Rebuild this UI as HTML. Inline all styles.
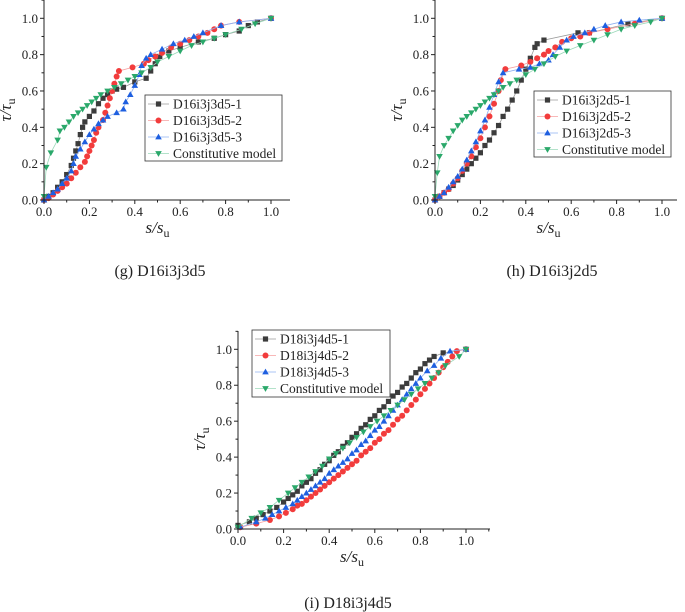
<!DOCTYPE html>
<html><head><meta charset="utf-8"><style>
html,body{margin:0;padding:0;background:#fff;}
svg{display:block;font-family:"Liberation Serif",serif;}
</style></head><body>
<svg id="s" width="685" height="612" viewBox="0 0 685 612" xmlns="http://www.w3.org/2000/svg"></svg>
<script>
// ---- data ----
const ticks = [0, 0.2, 0.4, 0.6, 0.8, 1.0];
const tickLabels = ["0.0", "0.2", "0.4", "0.6", "0.8", "1.0"];
const namesG = ["D16i3j3d5-1", "D16i3j3d5-2", "D16i3j3d5-3", "Constitutive model"];
const namesH = ["D16i3j2d5-1", "D16i3j2d5-2", "D16i3j2d5-3", "Constitutive model"];
const namesI = ["D18i3j4d5-1", "D18i3j4d5-2", "D18i3j4d5-3", "Constitutive model"];
const g1 = [[0,0],[0.02,0.02],[0.04,0.04],[0.06,0.07],[0.08,0.10],[0.10,0.14],[0.12,0.19],[0.13,0.23],[0.14,0.27],[0.15,0.31],[0.16,0.36],[0.17,0.40],[0.18,0.43],[0.2,0.46],[0.22,0.49],[0.24,0.53],[0.26,0.56],[0.28,0.58],[0.30,0.60],[0.32,0.61],[0.35,0.62],[0.40,0.65],[0.45,0.67],[0.47,0.71],[0.49,0.75],[0.51,0.79],[0.55,0.82],[0.6,0.84],[0.68,0.87],[0.75,0.89],[0.8,0.91],[0.86,0.93],[0.9,0.96],[0.94,0.98],[1,1]];
const g2 = [[0,0],[0.02,0.01],[0.04,0.03],[0.06,0.05],[0.08,0.07],[0.10,0.09],[0.12,0.12],[0.14,0.15],[0.16,0.18],[0.18,0.21],[0.19,0.24],[0.20,0.27],[0.21,0.30],[0.22,0.33],[0.23,0.37],[0.24,0.40],[0.26,0.44],[0.27,0.48],[0.28,0.52],[0.29,0.56],[0.30,0.60],[0.31,0.64],[0.32,0.68],[0.33,0.71],[0.39,0.73],[0.44,0.75],[0.46,0.77],[0.49,0.79],[0.52,0.81],[0.56,0.84],[0.60,0.86],[0.64,0.88],[0.68,0.90],[0.72,0.92],[0.75,0.94],[0.78,0.96],[0.86,0.98],[1,1]];
const g3 = [[0,0],[0.02,0.02],[0.04,0.04],[0.06,0.06],[0.08,0.09],[0.10,0.12],[0.12,0.16],[0.13,0.20],[0.14,0.24],[0.16,0.28],[0.18,0.32],[0.20,0.36],[0.22,0.39],[0.24,0.42],[0.26,0.44],[0.28,0.46],[0.32,0.48],[0.35,0.50],[0.36,0.54],[0.38,0.58],[0.40,0.63],[0.42,0.69],[0.43,0.74],[0.45,0.78],[0.47,0.80],[0.52,0.83],[0.57,0.86],[0.62,0.88],[0.66,0.90],[0.70,0.92],[0.78,0.96],[0.86,0.98],[1,1]];
const g4 = [[0,0.02],[0.01,0.18],[0.03,0.26],[0.06,0.33],[0.07,0.38],[0.09,0.40],[0.11,0.43],[0.13,0.46],[0.15,0.48],[0.17,0.50],[0.19,0.52],[0.21,0.54],[0.23,0.56],[0.25,0.58],[0.28,0.60],[0.31,0.62],[0.34,0.64],[0.37,0.66],[0.40,0.68],[0.43,0.70],[0.47,0.73],[0.50,0.76],[0.55,0.79],[0.60,0.82],[0.65,0.85],[0.70,0.87],[0.75,0.89],[0.80,0.91],[0.87,0.94],[0.93,0.97],[1,1]];
const h1 = [[0,0],[0.02,0.02],[0.04,0.04],[0.06,0.06],[0.08,0.08],[0.10,0.11],[0.12,0.14],[0.14,0.17],[0.16,0.20],[0.18,0.23],[0.20,0.26],[0.22,0.30],[0.24,0.33],[0.26,0.37],[0.28,0.41],[0.30,0.46],[0.32,0.50],[0.34,0.55],[0.36,0.60],[0.38,0.66],[0.40,0.72],[0.42,0.78],[0.44,0.84],[0.45,0.86],[0.48,0.88],[0.63,0.92],[0.68,0.92],[0.85,0.97],[1,1]];
const h2 = [[0,0],[0.02,0.02],[0.04,0.04],[0.06,0.06],[0.08,0.09],[0.10,0.12],[0.12,0.16],[0.14,0.20],[0.16,0.24],[0.18,0.29],[0.20,0.34],[0.22,0.40],[0.24,0.46],[0.26,0.53],[0.28,0.60],[0.29,0.66],[0.31,0.72],[0.38,0.74],[0.42,0.76],[0.45,0.78],[0.48,0.80],[0.50,0.82],[0.53,0.84],[0.56,0.87],[0.60,0.89],[0.64,0.90],[0.68,0.92],[0.76,0.94],[0.88,0.97],[1,1]];
const h3 = [[0,0],[0.02,0.02],[0.04,0.04],[0.06,0.07],[0.08,0.10],[0.10,0.13],[0.12,0.17],[0.14,0.22],[0.16,0.27],[0.18,0.32],[0.20,0.38],[0.22,0.44],[0.24,0.51],[0.26,0.58],[0.28,0.65],[0.30,0.70],[0.37,0.72],[0.42,0.73],[0.46,0.75],[0.50,0.77],[0.52,0.80],[0.55,0.84],[0.58,0.88],[0.61,0.90],[0.66,0.92],[0.70,0.94],[0.75,0.96],[0.82,0.98],[0.9,0.99],[1,1]];
const h4 = [[0,0.02],[0.01,0.15],[0.02,0.24],[0.04,0.30],[0.06,0.34],[0.08,0.38],[0.10,0.41],[0.12,0.44],[0.14,0.46],[0.16,0.48],[0.18,0.50],[0.20,0.52],[0.22,0.54],[0.24,0.56],[0.26,0.58],[0.28,0.60],[0.30,0.62],[0.33,0.64],[0.36,0.66],[0.40,0.69],[0.44,0.72],[0.48,0.75],[0.53,0.79],[0.58,0.82],[0.64,0.85],[0.70,0.88],[0.76,0.91],[0.82,0.94],[0.88,0.96],[0.95,0.98],[1,1]];
const i1x = [0,0.05,0.08,0.11,0.14,0.17,0.2,0.22,0.24,0.26,0.28,0.30,0.32,0.34,0.36,0.38,0.40,0.42,0.44,0.46,0.48,0.50,0.52,0.54,0.56,0.58,0.60,0.62,0.64,0.66,0.68,0.70,0.72,0.74,0.76,0.78,0.80,0.82,0.84,0.86,0.9,1.0];
const i1y = [0.02,0.04,0.06,0.08,0.10,0.12,0.15,0.17,0.19,0.21,0.24,0.26,0.28,0.31,0.33,0.36,0.38,0.41,0.43,0.46,0.48,0.51,0.53,0.56,0.58,0.61,0.63,0.66,0.68,0.71,0.74,0.76,0.79,0.81,0.84,0.87,0.89,0.92,0.94,0.96,0.98,1.0];
const i2x = [0.01,0.08,0.14,0.18,0.21,0.24,0.26,0.28,0.30,0.32,0.34,0.36,0.38,0.40,0.42,0.44,0.46,0.48,0.50,0.52,0.54,0.56,0.58,0.60,0.62,0.64,0.66,0.68,0.70,0.72,0.74,0.76,0.78,0.80,0.82,0.84,0.86,0.88,0.90,0.92,0.94,0.96,1.0];
const i2y = [0.01,0.03,0.05,0.07,0.09,0.11,0.13,0.14,0.16,0.18,0.20,0.22,0.24,0.26,0.28,0.30,0.32,0.34,0.36,0.38,0.41,0.43,0.45,0.48,0.50,0.53,0.55,0.58,0.61,0.63,0.66,0.69,0.72,0.75,0.78,0.81,0.84,0.87,0.90,0.93,0.96,0.99,1.0];
const i3x = [0.01,0.08,0.12,0.15,0.18,0.21,0.24,0.26,0.28,0.30,0.32,0.34,0.36,0.38,0.40,0.42,0.44,0.46,0.48,0.50,0.52,0.54,0.56,0.58,0.60,0.62,0.64,0.66,0.68,0.70,0.72,0.74,0.76,0.78,0.80,0.83,0.86,0.89,0.93,1.0];
const i3y = [0.01,0.04,0.06,0.08,0.10,0.12,0.14,0.16,0.18,0.20,0.22,0.24,0.26,0.28,0.31,0.33,0.35,0.37,0.39,0.42,0.44,0.47,0.49,0.52,0.55,0.57,0.60,0.63,0.66,0.69,0.72,0.75,0.78,0.81,0.84,0.88,0.91,0.95,0.99,1.0];
const i4x = [0,0.06,0.1,0.14,0.18,0.22,0.25,0.28,0.31,0.34,0.37,0.40,0.43,0.46,0.49,0.52,0.55,0.58,0.61,0.64,0.67,0.70,0.73,0.76,0.79,0.82,0.85,0.88,0.91,0.97,1.0];
const i4y = [0.01,0.06,0.09,0.12,0.16,0.20,0.23,0.26,0.29,0.32,0.35,0.39,0.42,0.45,0.48,0.51,0.54,0.57,0.60,0.63,0.66,0.69,0.72,0.75,0.78,0.81,0.84,0.87,0.91,0.96,1.0];

const NS = "http://www.w3.org/2000/svg";
const svg = document.getElementById("s");
function mk(tag, attrs, parent) {
  const e = document.createElementNS(NS, tag);
  for (const k in attrs) e.setAttribute(k, attrs[k]);
  (parent || svg).appendChild(e);
  return e;
}
const colors = ["#3c3c3c", "#f23c3c", "#1e5fe0", "#2aa86a"];
const lineColors = ["#9a9a9a", "#f6a0a0", "#8fb0f0", "#9ad8b8"];
function marker(g, k, x, y) {
  let m;
  if (k === 0) m = mk("rect", {x: x - 2.6, y: y - 2.6, width: 5.2, height: 5.2, fill: colors[0]}, g);
  else if (k === 1) m = mk("circle", {cx: x, cy: y, r: 3, fill: colors[1]}, g);
  else if (k === 2) m = mk("polygon", {points: `${x},${y-3.4} ${x+3.3},${y+2.4} ${x-3.3},${y+2.4}`, fill: colors[2]}, g);
  else m = mk("polygon", {points: `${x},${y+3.4} ${x+3.3},${y-2.4} ${x-3.3},${y-2.4}`, fill: colors[3]}, g);
  
  
}
function panel(P) {
  const g = mk("g", {});
  
  
  const sx = v => P.x0 + v * (P.x1 - P.x0);
  const sy = v => P.y0 - v * (P.y0 - P.y1);
  P.series.forEach((pts, k) => {
    const sg = mk("g", {}, g);
    
    
    mk("polyline", {points: pts.map(p => sx(p[0]) + "," + sy(p[1])).join(" "), fill: "none", stroke: lineColors[k], "stroke-width": 0.8}, sg);
    pts.forEach(p => marker(sg, k, sx(p[0]), sy(p[1])));
  });
  const ax = mk("g", {}, g);
  
  
  mk("line", {x1: P.x0, y1: P.y0, x2: P.xEnd, y2: P.y0, stroke: "#222", "stroke-width": 1}, ax);
  mk("line", {x1: P.x0, y1: P.y0, x2: P.x0, y2: P.yTop, stroke: "#222", "stroke-width": 1}, ax);
  for (let v = 0; v <= 1.21; v += 0.1) {
    const major = Math.round(v * 10) % 2 === 0;
    const X = sx(v);
    if (X <= P.xEnd) mk("line", {x1: X, y1: P.y0, x2: X, y2: P.y0 + (major ? 4 : 2.5), stroke: "#222"}, ax);
    const Y = sy(v);
    if (Y >= P.yTop) mk("line", {x1: P.x0, y1: Y, x2: P.x0 - (major ? 4 : 2.5), y2: Y, stroke: "#222"}, ax);
  }
  ticks.forEach((t, i) => {
    const tx = mk("text", {x: sx(t), y: P.y0 + 16, "text-anchor": "middle", "font-size": 13, fill: "#222"}, ax);
    tx.textContent = tickLabels[i];
    
    
    const ty = mk("text", {x: P.x0 - 6, y: sy(t) + 4.5, "text-anchor": "end", "font-size": 13, fill: "#222"}, ax);
    ty.textContent = tickLabels[i];
    
    
  });
  const xt = mk("text", {x: (P.x0 + P.x1) / 2, y: P.y0 + 33, "text-anchor": "middle", "font-size": 17, "font-style": "italic", fill: "#222"}, ax);
  xt.innerHTML = 's/s<tspan font-size="12" font-style="normal" dy="4">u</tspan>';
  
  
  const yc = P.y0 - 90;
  const yt = mk("text", {x: 0, y: 0, "text-anchor": "middle", "font-size": 17, "font-style": "italic", fill: "#222", transform: `translate(${P.x0 - 33},${yc}) rotate(-90)`}, ax);
  yt.innerHTML = 'τ/τ<tspan font-size="12" font-style="normal" dy="4">u</tspan>';
  
  
  const L = P.leg;
  const lg = mk("g", {}, g);
  
  
  mk("rect", {x: L.x, y: L.y, width: L.w, height: L.h, fill: "#fff", stroke: "#333", "stroke-width": 0.8}, lg);
  P.names.forEach((n, k) => {
    const yy = L.y + 9 + k * 16.5;
    const e = mk("g", {}, lg);
    
    
    mk("line", {x1: L.x + 3, y1: yy, x2: L.x + 24, y2: yy, stroke: lineColors[k], "stroke-width": 0.8}, e);
    marker(e, k, L.x + 13.5, yy);
    const t = mk("text", {x: L.x + 28, y: yy + 4.5, "font-size": 13.5, fill: "#222"}, e);
    t.textContent = n;
  });
  const cap = mk("text", {x: P.cap[0], y: P.cap[1], "text-anchor": "middle", "font-size": 16, fill: "#222"}, g);
  cap.textContent = P.capText;
  
  
}
const zip = (a, b) => a.map((v, i) => [v, b[i]]);
panel({id: "panel-g", x0: 44, x1: 271, y0: 200, y1: 18.3, xEnd: 290, yTop: 0, series: [g1, g2, g3, g4], names: namesG,
  leg: {x: 145, y: 95, w: 137, h: 66}, cap: [160, 276], capText: "(g) D16i3j3d5"});
panel({id: "panel-h", x0: 435, x1: 662, y0: 200, y1: 18.3, xEnd: 677, yTop: 0, series: [h1, h2, h3, h4], names: namesH,
  leg: {x: 534, y: 91, w: 137, h: 66}, cap: [552, 276], capText: "(h) D16i3j2d5"});
panel({id: "panel-i", x0: 238, x1: 466, y0: 529, y1: 349.3, xEnd: 490, yTop: 331, series: [zip(i1x, i1y), zip(i2x, i2y), zip(i3x, i3y), zip(i4x, i4y)], names: namesI,
  leg: {x: 252, y: 330, w: 138, h: 67}, cap: [348, 608], capText: "(i) D18i3j4d5"});
</script>
</body></html>
